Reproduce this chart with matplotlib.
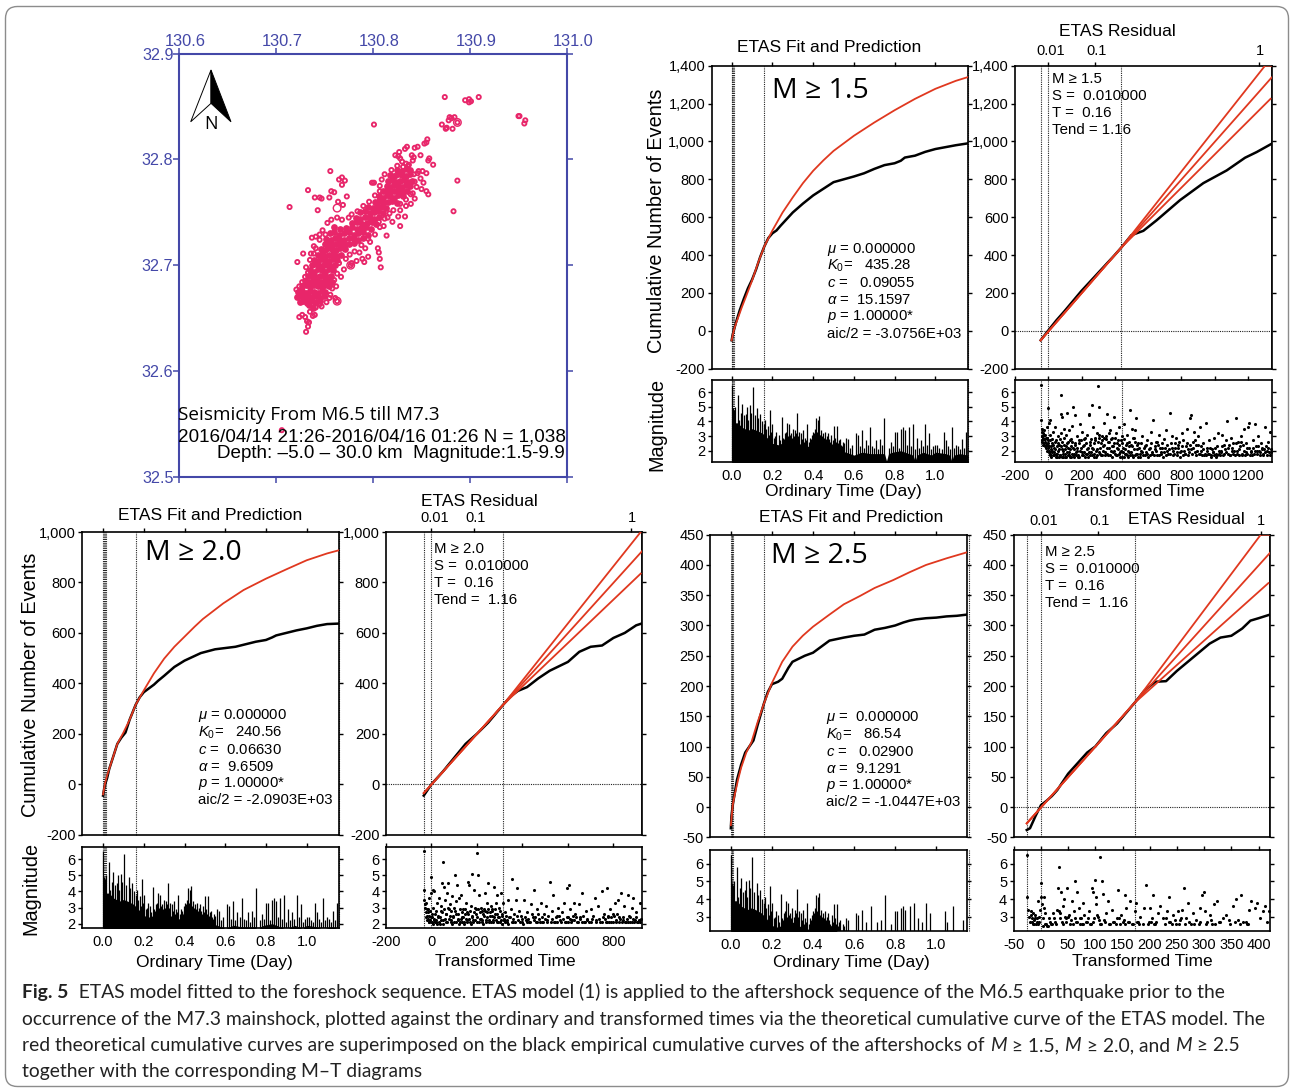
import matplotlib
matplotlib.use('Agg')
import matplotlib.pyplot as plt
from matplotlib.patches import FancyBboxPatch
from matplotlib.transforms import IdentityTransform

W, H = 1290, 1089
BLUE = '#4448a8'
PINK = '#e8266a'
RED = '#e0381f'

plt.rcParams['font.family'] = ['Liberation Sans', 'DejaVu Sans']
plt.rcParams['mathtext.fontset'] = 'custom'
plt.rcParams['mathtext.rm'] = 'Liberation Sans'
plt.rcParams['mathtext.it'] = 'Liberation Sans:italic'
plt.rcParams['mathtext.bf'] = 'Liberation Sans:bold'

# map: single rings around the band
map_pts = [(130.874,32.859),(130.895,32.856),(130.899,32.857),(130.901,32.855),(130.899,32.854),(130.909,32.859),
 (130.950,32.841),(130.951,32.841),(130.957,32.837),(130.956,32.834),(130.801,32.833),(130.879,32.840),(130.884,32.840),
 (130.881,32.839),(130.887,32.835),(130.882,32.829),(130.871,32.833),(130.875,32.829),(130.878,32.837),(130.876,32.830),
 (130.856,32.819),(130.853,32.815),(130.855,32.816),(130.846,32.812),(130.843,32.811),(130.835,32.812),(130.833,32.810),
 (130.827,32.807),(130.823,32.804),(130.849,32.804),(130.840,32.804),(130.842,32.802),(130.858,32.801),(130.857,32.799),
 (130.862,32.795),(130.828,32.801),(130.826,32.803),(130.830,32.798),(130.834,32.796),(130.837,32.795),(130.841,32.799),
 (130.887,32.780),(130.883,32.751),(130.828,32.737),(130.833,32.746),(130.808,32.698),(130.763,32.666),(130.777,32.700),
 (130.714,32.755),(130.733,32.771),(130.756,32.789),(130.765,32.781),(130.768,32.783),(130.771,32.780),(130.768,32.776),
 (130.757,32.770),(130.760,32.769),(130.740,32.764),(130.745,32.764),(130.747,32.763),(130.755,32.764),(130.773,32.765),
 (130.764,32.760),(130.769,32.757),(130.743,32.752),(130.799,32.778),(130.801,32.778),(130.722,32.703),(130.728,32.711),
 (130.737,32.726),(130.741,32.727),(130.739,32.718),(130.745,32.724),(130.731,32.637),(130.733,32.642),(130.732,32.647),
 (130.730,32.651),(130.734,32.646),(130.724,32.651),(130.727,32.653),(130.735,32.656),(130.740,32.653),(130.738,32.652),
 (130.706,32.544),(130.807,32.706),(130.805,32.716),(130.797,32.722),(130.806,32.712),(130.795,32.708),(130.789,32.706),
 (130.791,32.703),(130.814,32.728),(130.820,32.741),(130.817,32.749),(130.826,32.746),(130.812,32.744),(130.806,32.741),
 (130.841,32.768),(130.845,32.774),(130.850,32.772),(130.855,32.770),(130.857,32.767),(130.852,32.778),(130.849,32.782),
 (130.847,32.789),(130.851,32.789),(130.846,32.787),(130.855,32.787),(130.842,32.786),(130.839,32.758),(130.834,32.756),
 (130.828,32.752),(130.843,32.763),(130.823,32.784),(130.819,32.790),(130.812,32.786),(130.809,32.781),(130.807,32.775),
 (130.761,32.669),(130.755,32.669),(130.752,32.665),(130.741,32.660),(130.745,32.663),(130.724,32.680),(130.721,32.677),
 (130.724,32.675),(130.727,32.684),(130.730,32.689),(130.735,32.705),(130.739,32.711),(130.762,32.680),(130.767,32.689),
 (130.770,32.696),(130.765,32.702),(130.778,32.702),(130.783,32.704),(130.786,32.712),(130.792,32.716),(130.776,32.710),
 (130.733,32.665),(130.737,32.663),(130.747,32.661),(130.756,32.672),(130.758,32.678),(130.760,32.686),(130.763,32.692),
 (130.772,32.706),(130.781,32.713),(130.788,32.719),(130.795,32.725),(130.802,32.729),(130.807,32.736),(130.811,32.737),
 (130.815,32.745),(130.821,32.752),(130.828,32.758),(130.834,32.762),(130.839,32.767),(130.843,32.779),(130.748,32.733),
 (130.751,32.729),(130.745,32.729),(130.753,32.740),(130.757,32.743),(130.763,32.745),(130.768,32.743),(130.775,32.745),
 (130.778,32.748),(130.784,32.751),(130.790,32.756),(130.796,32.760),(130.802,32.766),(130.807,32.770),(130.733,32.693),
 (130.731,32.698),(130.736,32.711),(130.741,32.716),(130.825,32.794),(130.831,32.793),(130.836,32.794)]
# map: the solid core of the band, where rings overlap completely
map_core = [(130.725,32.665),(130.728,32.666),(130.732,32.664),(130.736,32.666),(130.741,32.665),(130.745,32.666),
 (130.722,32.670),(130.726,32.671),(130.730,32.669),(130.733,32.671),(130.737,32.670),(130.741,32.671),(130.745,32.669),(130.749,32.671),
 (130.723,32.675),(130.727,32.676),(130.731,32.674),(130.735,32.676),(130.739,32.675),(130.743,32.674),(130.747,32.676),(130.751,32.675),
 (130.727,32.680),(130.731,32.681),(130.735,32.679),(130.739,32.681),(130.743,32.680),(130.747,32.679),(130.751,32.681),(130.755,32.680),
 (130.730,32.685),(130.734,32.684),(130.738,32.686),(130.742,32.685),(130.746,32.684),(130.750,32.686),(130.754,32.685),(130.758,32.684),
 (130.733,32.690),(130.737,32.691),(130.741,32.689),(130.745,32.690),(130.749,32.691),(130.753,32.689),(130.757,32.690),
 (130.735,32.695),(130.739,32.694),(130.743,32.696),(130.747,32.695),(130.751,32.694),(130.755,32.696),(130.759,32.695),
 (130.737,32.700),(130.741,32.701),(130.745,32.699),(130.749,32.700),(130.753,32.701),(130.757,32.699),(130.761,32.700),
 (130.739,32.705),(130.743,32.704),(130.747,32.706),(130.751,32.705),(130.755,32.704),(130.759,32.706),(130.763,32.705),
 (130.743,32.710),(130.747,32.711),(130.751,32.709),(130.755,32.710),(130.759,32.711),(130.763,32.709),(130.767,32.710),
 (130.746,32.715),(130.750,32.714),(130.754,32.716),(130.758,32.715),(130.762,32.714),(130.766,32.716),(130.771,32.715),
 (130.750,32.720),(130.754,32.721),(130.758,32.719),(130.762,32.720),(130.766,32.721),(130.770,32.719),(130.775,32.720),(130.780,32.721),
 (130.752,32.725),(130.757,32.724),(130.761,32.726),(130.765,32.725),(130.770,32.724),(130.775,32.726),(130.780,32.725),(130.785,32.724),(130.790,32.726),
 (130.756,32.730),(130.760,32.731),(130.765,32.729),(130.770,32.730),(130.775,32.731),(130.780,32.729),(130.785,32.730),(130.790,32.731),(130.795,32.729),
 (130.760,32.736),(130.766,32.734),(130.772,32.735),(130.778,32.736),(130.783,32.734),(130.788,32.735),(130.793,32.736),(130.798,32.734),
 (130.778,32.740),(130.784,32.741),(130.789,32.739),(130.794,32.740),(130.799,32.741),(130.803,32.739),
 (130.782,32.745),(130.787,32.744),(130.792,32.746),(130.797,32.745),(130.801,32.744),(130.806,32.746),
 (130.787,32.750),(130.792,32.751),(130.797,32.749),(130.801,32.750),(130.805,32.751),(130.810,32.749),
 (130.795,32.755),(130.800,32.754),(130.804,32.756),(130.808,32.755),(130.813,32.754),
 (130.802,32.760),(130.806,32.761),(130.810,32.759),(130.815,32.760),(130.820,32.761),(130.825,32.759),
 (130.806,32.765),(130.810,32.764),(130.814,32.766),(130.818,32.765),(130.822,32.764),(130.826,32.766),(130.831,32.765),
 (130.810,32.770),(130.814,32.771),(130.818,32.769),(130.822,32.770),(130.826,32.771),(130.830,32.769),(130.835,32.770),
 (130.814,32.775),(130.818,32.774),(130.822,32.776),(130.826,32.775),(130.830,32.774),(130.834,32.776),(130.838,32.775),
 (130.815,32.780),(130.820,32.781),(130.824,32.779),(130.828,32.780),(130.832,32.781),(130.836,32.779),(130.840,32.780),
 (130.818,32.785),(130.822,32.784),(130.826,32.786),(130.830,32.785),(130.834,32.784),(130.838,32.786),
 (130.825,32.790),(130.830,32.789),(130.835,32.791),(130.838,32.790),(130.734,32.662),(130.738,32.660)]
map_big = [(130.763,32.754),(130.777,32.700),(130.763,32.666),(130.887,32.835)]
lon_ticks = [130.6, 130.7, 130.8, 130.9, 131.0]
lat_ticks = [32.5, 32.6, 32.7, 32.8, 32.9]

# ordinary time curves
t15_black = [0,.005,.01,.02,.04,.06,.08,.1,.12,.14,.16,.18,.2,.22,.24,.27,.3,.35,.4,.45,.5,.55,.6,.65,.7,.75,.8,.83,.85,.9,.95,1.0,1.05,1.1,1.16]
n15_black = [-50,-20,0,40,110,170,225,270,325,390,445,490,515,530,555,590,625,672,715,750,785,800,815,832,855,875,885,898,915,925,945,960,970,980,990]
t15_red = [0,.01,.02,.03,.05,.07,.1,.13,.16,.2,.25,.3,.35,.4,.45,.5,.6,.7,.8,.9,1.0,1.1,1.16]
n15_red = [-50,0,35,65,125,180,265,360,445,530,625,705,780,845,900,950,1030,1100,1165,1225,1278,1320,1340]

t20_black = [0,.005,.01,.02,.03,.05,.07,.09,.11,.13,.16,.18,.2,.25,.27,.3,.35,.4,.48,.55,.6,.65,.7,.75,.8,.83,.85,.9,.95,1.0,1.05,1.1,1.16]
n20_black = [-45,-20,0,25,60,110,160,185,205,255,315,345,365,395,410,430,465,490,520,535,540,545,555,565,572,582,590,600,610,618,628,635,637]
t20_red = [0,.01,.02,.03,.05,.07,.1,.13,.16,.2,.25,.3,.35,.4,.45,.49,.59,.69,.8,.9,1.0,1.1,1.16]
n20_red = [-40,5,35,60,110,160,205,255,315,372,440,498,545,585,625,655,717,770,815,852,888,915,928]

t25_black = [0,.003,.01,.02,.03,.05,.07,.09,.11,.13,.16,.18,.2,.23,.25,.28,.3,.33,.36,.4,.44,.48,.55,.6,.65,.7,.75,.8,.84,.87,.9,.95,1.0,1.05,1.1,1.15]
n25_black = [-35,-15,5,25,45,70,90,100,110,135,170,190,203,207,212,230,240,245,250,255,265,275,280,283,285,293,296,300,305,308,310,312,313,315,316,318]
t25_red = [0,.01,.02,.035,.05,.075,.1,.13,.16,.2,.25,.3,.35,.4,.48,.55,.63,.7,.79,.87,.95,1.05,1.15]
n25_red = [-30,5,22,45,65,90,107,140,170,205,240,265,283,298,318,335,349,362,375,388,400,411,421]

# transformed time curves
tau15_black = [-44,0,50,100,200,300,400,440,500,572,652,792,932,1072,1182,1252,1342]
res15_black = [-50,0,55,105,210,305,400,440,505,528,584,690,780,847,914,944,988]
tau15_hi, res15_hi = [-44,440,1302,1342], [-50,440,1400,1400]
tau15_mid, res15_mid = [-44,440,1342], [-50,440,1338]
tau15_lo, res15_lo = [-44,440,1335], [-50,440,1225]

tau20_black = [-34,0,50,100,150,200,250,315,350,380,420,470,520,600,650,700,750,800,850,900,927]
res20_black = [-45,0,50,105,160,200,245,315,350,370,385,420,450,485,525,545,550,580,600,630,638]
tau20_hi, res20_hi = [-34,315,920], [-35,315,1000]
tau20_mid, res20_mid = [-34,315,927], [-35,315,925]
tau20_lo, res20_lo = [-34,315,920], [-35,315,835]

tau25_black = [-26,-20,-10,0,10,20,30,50,70,85,100,120,140,172,190,210,230,250,270,290,310,330,350,370,385,400,421]
res25_black = [-38,-35,-15,3,10,18,28,55,75,90,100,122,138,172,192,207,208,225,240,255,270,280,283,295,308,312,318]
tau25_hi, res25_hi = [-26,172,404,421], [-27,172,450,450]
tau25_mid, res25_mid = [-26,172,421], [-27,172,420]
tau25_lo, res25_lo = [-26,172,418], [-27,172,370]

# M-T diagram, ordinary time: solid lower envelope and single spikes
env_t = [0,.01,.03,.05,.08,.1,.12,.15,.18,.2,.23,.26,.3,.33,.36,.38,.4,.43,.46,.5,.53,.56,.6,.64,.68,.72,.75,.76,.77,.79,.83,.87,.89,.9,.91,.94,.98,1.0,1.05,1.07,1.08,1.09,1.12,1.16]
env_m = [4.0,3.9,3.9,3.6,3.4,3.5,3.4,3.2,2.8,2.5,2.4,2.6,2.7,2.5,2.3,2.3,2.8,3.1,2.7,2.4,2.0,1.9,1.7,1.9,1.8,1.8,1.8,1.3,1.8,1.9,2.0,1.8,1.7,1.3,1.7,1.9,1.7,1.9,1.8,1.7,1.3,1.7,1.8,1.7]
spike_t = [0,.005,.01,.015,.03,.035,.045,.05,.06,.07,.075,.08,.09,.095,.105,.115,.125,.13,.14,.15,.16,.165,.18,.19,.2,.22,.245,.26,.27,.28,.3,.31,.32,.33,.35,.37,.39,.41,.415,.425,.43,.44,.46,.475,.49,.5,.515,.53,.55,.56,.57,.61,.62,.64,.66,.68,.71,.73,.75,.78,.8,.81,.83,.84,.85,.87,.89,.91,.93,.95,.97,1.0,1.01,1.04,1.05,1.08,1.1,1.13,1.15,
 .54,.58,.59,.63,.65,.67,.69,.7,.72,.74,.77,.79,.82,.86,.88,.9,.92,.94,.96,.98,.99,1.02,1.03,1.06,1.07,1.09,1.11,1.12,1.14,
 .17,.185,.195,.21,.215,.23,.235,.25,.255,.265,.275,.285,.29,.295,.305,.315,.325,.34,.345,.355,.36,.365,.38,.385,.395,.4,.405,.42,.435,.445,.45,.455,.465,.47,.48,.485,.495,.505,.51,.52,.525,.535,.545]
spike_m = [6.5,4.9,4.8,5.0,5.8,4.1,4.6,5.2,4.4,4.5,5.0,4.1,5.1,4.6,6.35,4.4,4.9,4.2,4.5,4.0,3.8,4.1,3.7,4.75,3.8,3.3,4.3,3.2,3.9,3.8,3.5,3.4,4.55,3.3,3.4,3.8,2.8,3.5,4.2,4.1,4.35,3.4,3.3,3.2,3.1,3.7,3.7,2.8,2.5,2.9,2.8,3.2,3.1,3.4,2.7,3.6,2.7,2.8,4.2,2.6,3.3,3.3,3.5,3.6,3.4,3.6,3.8,2.9,2.7,3.8,3.2,2.4,2.4,3.3,2.7,3.6,2.4,2.8,3.3,
 2.3,2.2,2.4,2.3,2.2,2.4,2.3,2.2,2.1,2.4,2.2,2.3,2.2,2.4,2.3,2.1,2.2,2.3,2.4,2.1,2.3,2.2,2.1,2.3,2.1,2.2,2.3,2.1,2.2,
 3.5,3.1,3.3,2.9,3.0,3.1,2.7,2.9,2.8,3.3,3.0,3.1,3.2,2.9,3.0,3.2,3.0,3.2,2.8,2.6,2.9,2.7,2.6,2.9,3.1,3.3,3.2,3.3,3.1,3.0,3.2,2.9,2.8,3.0,2.8,2.6,2.7,2.9,2.6,2.5,2.7,2.4,2.6]

# M-T diagram, transformed time
mt15 = [(-44,6.5),(-42,4.1),(-40,3.5),(-38,3.3),(-36,3.0),(-35,2.7),(-33,3.2),(-30,2.9),(-28,2.5),(-26,3.4),(-24,2.8),(-22,2.3),(-20,3.1),(-18,2.6),(-15,2.2),(-13,2.9),(-10,2.4),(-8,3.6),(-6,2.0),(-3,2.7),(0,4.9),(2,1.9),(4,3.9),(6,2.3),(8,1.7),(10,3.1),(12,4.1),(14,2.1),
 (18,1.6),(22,2.5),(25,1.9),(28,3.3),(32,1.7),(36,2.2),(40,3.6),(44,1.8),(48,2.7),(52,1.6),(56,2.0),(60,3.0),(64,2.4),(68,1.7),(75,5.8),(75,4.5),(78,3.2),(82,2.1),(85,4.3),(88,1.8),(92,2.9),(96,3.5),(100,1.6),(104,2.3),(108,3.1),(110,4.6),(114,1.9),(118,2.6),(122,3.4),(126,1.7),(130,2.1),(134,2.8),(138,1.6),(142,3.7),(146,2.2),(150,5.0),(154,1.8),(158,2.5),(160,4.4),(165,1.7),(170,3.0),(175,2.0),(180,1.6),(185,2.7),(190,3.8),(195,2.2),(200,1.9),(205,3.3),(210,1.7),(215,2.4),(220,2.9),(225,1.8),(230,2.1),(235,3.1),(240,1.6),(245,4.5),(247,4.4),(250,2.6),(255,1.9),(260,2.2),(265,5.1),(270,3.6),(275,1.8),(280,2.7),(285,1.6),(290,3.2),(295,2.1),(300,6.4),(303,2.9),(305,5.0),(310,1.8),(315,2.5),(320,3.0),(325,1.7),(330,2.3),(335,3.9),(340,1.9),(345,2.8),(350,2.2),(355,4.5),(360,1.7),(365,2.6),(370,3.4),(375,2.0),(380,1.6),(385,2.9),(390,2.3),(395,4.3),(400,1.8),(405,3.2),(410,2.5),(415,1.7),(420,2.1),(425,3.6),(430,1.9),(435,2.7),(440,3.0),(445,1.6),(450,2.2),(455,3.8),(460,1.8),(465,2.4),(470,3.1),(475,1.7),(480,2.0),(485,2.6),(490,4.8),(495,1.9),(500,3.5),(505,2.3),(510,1.6),(515,2.9),(520,3.4),(525,4.2),(530,2.1),(535,1.8),(540,2.5),(548,1.6),(555,2.0),(562,3.0),(570,1.7),(578,2.3),(585,1.9),(592,2.7),(600,1.6),(608,2.2),(615,3.3),(622,1.8),(630,4.1),(638,2.1),(645,2.6),(652,1.7),(660,2.4),(668,3.1),(675,1.9),(682,2.2),(690,1.6),(698,2.8),(705,3.4),(712,2.0),(720,1.8),(730,4.6),(738,2.5),(745,3.0),(752,1.7),(760,2.2),(768,2.9),(775,1.9),(782,2.4),(790,1.6),(798,2.0),(805,3.2),(812,2.7),(820,1.8),(828,2.3),(835,3.5),(842,1.7),(850,4.2),(855,2.1),(860,4.4),(868,2.6),(875,3.3),(882,1.9),(890,2.4),(898,3.0),(905,1.8),(912,3.6),(920,2.0),(928,2.5),(935,1.7),(945,3.9),(952,2.2),(960,1.8),(968,2.7),(975,1.6),(982,2.1),(990,1.9),(998,2.9),(1005,1.6),(1012,2.3),(1020,3.2),(1028,1.8),(1035,2.0),(1042,3.1),(1050,1.7),(1058,2.4),(1065,1.9),(1075,4.0),(1082,2.2),(1090,1.7),(1098,2.9),(1105,2.0),(1112,2.5),(1125,4.2),(1132,1.8),(1140,2.6),(1148,2.1),(1155,3.0),(1162,1.7),(1170,2.4),(1178,3.5),(1185,1.9),(1192,2.2),(1198,3.6),(1205,3.9),(1212,1.7),(1220,2.0),(1228,2.7),(1235,1.8),(1240,3.8),(1248,2.3),(1255,2.0),(1262,3.0),(1270,1.7),(1278,2.5),(1285,2.1),(1292,1.8),(1300,3.6),(1308,2.3),(1315,2.0),(1322,2.6),(1330,3.3),(1335,1.9),(1340,2.1)]
mt15_low = [(-37,2.6),(-31,2.4),(-27,3.1),(-21,2.8),(-16,2.5),(-12,2.3),(-7,2.9),(-4,2.2),(1,2.5),(5,2.0),(9,2.7),(13,1.8),(16,2.3),(20,2.0),(24,2.8),(27,1.7),(30,2.4),(34,1.9),(38,2.1),(42,2.6),(46,1.6),(50,2.3),(54,1.8),(58,2.5),(62,1.6),(66,2.1),(70,2.8),(73,1.7),(77,2.3),(80,1.6),(84,2.6),(87,2.0),(90,1.6),(94,2.4),(98,1.8),(102,2.1),(106,1.6),(112,2.5),(116,1.7),(120,2.2),(124,1.9),(128,2.7),(132,1.6),(136,2.3),(140,1.8),(144,2.6),(148,1.7),(152,2.1),(156,1.6),(162,2.4),(167,1.9),(172,2.2),(177,1.7),(182,2.5),(187,1.6),(192,2.0),(197,2.7),(202,1.7),(207,2.3),(212,1.9),(217,2.8),(222,1.6),(227,2.5),(232,1.8),(237,2.2),(242,1.9),(248,1.7),(252,2.4),(257,2.8),(262,1.7),(267,2.1),(272,1.6),(277,2.5),(282,2.9),(287,2.0),(292,1.7),(297,2.6),(302,1.9),(307,3.1),(312,2.2),(317,1.7),(322,2.7),(327,2.0),(332,2.9),(337,2.4),(342,1.7),(347,3.0),(352,1.8),(357,2.6),(362,2.2),(367,3.2),(372,1.7),(377,2.8),(382,2.3),(387,1.9),(392,2.5),(397,2.0),(402,2.9),(407,1.7),(412,2.2),(417,2.7),(422,1.8),(427,2.4),(432,1.6),(437,2.0),(442,2.5),(447,1.9),(452,2.8),(457,1.6),(462,2.1),(467,1.8),(472,2.5),(477,1.6),(482,2.3),(487,1.9),(492,1.7),(498,2.4),(503,1.7),(508,2.9),(513,2.1),(518,1.7),(523,2.6),(528,1.8),(533,2.4),(538,1.6),(545,2.2),(552,1.8),(558,2.5),(565,1.9),(572,2.2),(580,1.7),(588,2.4),(595,1.8),(603,2.1),(610,1.7),(618,2.5),(625,1.9),(633,1.7),(640,2.3),(648,2.0),(655,2.6),(663,1.7),(670,2.2),(678,1.8),(685,2.5),(693,1.9),(700,2.2),(708,1.7),(715,2.4),(723,2.1),(733,1.8),(741,2.2),(748,2.0),(756,1.8),(763,2.5),(771,1.7),(778,2.2),(786,2.6),(794,1.9),(801,2.3),(809,1.7),(816,2.0),(824,1.8),(831,2.5),(839,2.1),(846,1.9),(853,2.4),(865,1.8),(872,2.2),(879,2.7),(887,1.7),(894,2.0),(902,2.4),(909,1.8),(917,2.3),(924,1.7),(932,2.1),(940,1.8),(948,1.7),(956,2.0),(964,1.8),(971,2.2),(979,1.7),(987,1.9),(995,1.7),(1002,2.2),(1009,1.8),(1016,1.7),(1024,2.0),(1032,1.7),(1039,1.9),(1046,2.3),(1054,1.8),(1062,2.1),(1070,2.7),(1079,1.8),(1086,2.4),(1094,1.7),(1102,2.2),(1109,1.8),(1116,2.0),(1122,1.7),(1128,2.5),(1136,2.0),(1144,1.7),(1151,2.3),(1159,2.6),(1166,1.8),(1174,2.0),(1182,1.7),(1189,2.5),(1196,1.8),(1208,2.2),(1216,1.9),(1224,1.7),(1232,2.2),(1244,2.0),(1252,1.8),(1259,2.3),(1266,2.0),(1274,1.9),(1282,2.2),(1289,1.7),(1296,2.1),(1304,1.9),(1312,1.7),(1319,2.2),(1326,1.9),(1333,1.7)]
mt20 = [(-34,6.5),(-33,4.1),(-31,3.5),(-29,3.2),(-27,3.0),(-25,2.7),(-23,3.3),(-21,2.5),(-19,2.9),(-17,2.3),(-15,2.7),(-13,2.1),(-11,2.5),(-9,3.6),(-7,2.2),(-5,2.8),(-2,3.9),(0,4.9),(2,2.1),(4,2.4),(6,4.1),(8,3.0),(10,2.2),(13,4.0),(16,2.6),(20,2.1),(24,3.3),(28,2.4),(32,3.6),(36,2.0),(40,2.8),(44,3.1),(47,4.5),(50,5.8),(52,2.2),(55,4.3),(58,3.5),(62,2.6),(65,2.1),(68,3.9),(72,4.5),(75,2.9),(78,2.3),(82,3.2),(86,2.1),(90,3.7),(94,2.5),(98,2.1),(102,5.0),(104,2.8),(108,3.4),(111,4.4),(115,2.2),(118,2.6),(122,3.6),(126,2.1),(130,3.8),(134,2.4),(138,2.9),(142,2.1),(146,2.6),(150,3.3),(154,2.2),(158,2.7),(162,4.6),(165,4.4),(168,2.1),(172,3.1),(176,2.4),(180,5.1),(183,2.2),(186,4.1),(190,3.0),(194,2.6),(198,6.4),(200,2.1),(203,5.0),(206,2.9),(210,3.8),(214,2.3),(218,3.0),(222,2.1),(226,2.6),(230,2.9),(234,3.9),(238,2.2),(242,2.7),(246,3.3),(250,4.5),(254,2.1),(258,2.5),(262,3.1),(266,2.9),(270,2.2),(274,4.3),(278,2.6),(282,3.3),(286,2.1),(290,3.8),(294,2.4),(298,3.0),(302,2.1),(306,3.9),(310,2.5),(315,3.3),(320,2.2),(325,2.7),(330,2.1),(335,3.5),(340,2.4),(348,2.9),(355,4.8),(360,2.1),(365,2.6),(370,3.5),(375,4.2),(380,2.2),(385,2.8),(392,2.5),(400,2.1),(408,3.5),(415,2.2),(422,2.7),(430,2.1),(438,3.2),(445,2.4),(452,4.1),(458,2.1),(465,2.9),(472,2.3),(480,3.3),(488,2.1),(495,2.6),(502,3.1),(510,2.2),(520,4.6),(528,2.8),(535,3.8),(542,2.1),(550,2.5),(558,3.0),(566,2.2),(575,2.7),(584,3.3),(590,2.1),(596,4.2),(600,2.4),(604,4.4),(610,2.9),(618,2.2),(625,3.3),(632,2.6),(640,2.1),(648,3.2),(655,2.4),(662,3.9),(670,2.1),(678,2.8),(686,2.3),(694,2.1),(702,2.9),(710,2.5),(718,3.6),(725,2.2),(732,3.1),(740,2.1),(750,4.0),(758,2.6),(766,2.1),(772,4.2),(778,2.4),(784,2.9),(790,2.1),(798,2.6),(806,3.3),(812,2.1),(820,3.5),(826,2.4),(833,3.9),(840,2.2),(848,3.1),(855,2.1),(862,3.8),(868,2.5),(875,2.1),(882,3.0),(888,3.6),(894,2.2),(900,2.7),(908,2.1),(915,3.3),(922,2.3)]
mt20_low = [(-26,2.4),(-20,2.2),(-14,2.9),(-10,2.1),(-4,2.4),(1,2.6),(5,2.0),(9,2.3),(14,2.1),(18,2.8),(22,2.2),(26,2.0),(30,2.5),(34,2.1),(38,2.4),(42,2.2),(46,2.7),(50,2.0),(54,2.9),(60,2.3),(66,2.6),(70,2.1),(74,3.0),(80,2.5),(84,2.2),(88,2.8),(92,2.0),(96,2.4),(100,3.0),(106,2.1),(110,2.6),(116,2.3),(120,2.0),(124,2.9),(128,2.3),(132,2.1),(136,2.7),(140,2.4),(144,2.0),(148,2.9),(152,2.3),(156,2.1),(160,2.6),(166,2.3),(170,2.8),(174,2.0),(178,2.5),(184,2.1),(188,2.7),(192,2.2),(196,2.9),(202,2.4),(208,2.1),(212,2.7),(216,2.3),(220,2.8),(224,2.2),(228,2.0),(232,2.5),(236,2.8),(240,2.1),(244,2.4),(248,2.9),(252,2.2),(256,2.7),(260,2.1),(264,2.5),(268,2.8),(272,2.1),(276,2.4),(280,2.9),(284,2.2),(288,2.6),(292,2.1),(296,2.4),(300,2.8),(304,2.2),(308,2.0),(312,2.6),(318,2.3),(322,2.1),(328,2.5),(332,2.2),(338,2.0),(344,2.4),(352,2.1),(358,2.3),(368,2.1),(378,2.5),(388,2.1),(396,2.3),(404,2.0),(412,2.4),(420,2.1),(426,2.3),(434,2.1),(442,2.6),(450,2.2),(456,2.4),(462,2.1),(470,2.6),(476,2.1),(484,2.4),(492,2.1),(500,2.3),(506,2.1),(514,2.5),(524,2.1),(532,2.3),(540,2.1),(546,2.4),(554,2.1),(562,2.5),(570,2.1),(578,2.3),(586,2.1),(594,2.4),(602,2.1),(608,2.3),(614,2.1),(622,2.5),(628,2.2),(636,2.4),(644,2.1),(652,2.3),(660,2.1),(668,2.5),(676,2.1),(684,2.2),(700,2.1),(708,2.3),(722,2.1),(736,2.3),(748,2.1),(754,2.4),(762,2.3),(770,2.1),(776,2.5),(782,2.1),(788,2.4),(796,2.1),(802,2.5),(810,2.2),(816,2.6),(824,2.1),(830,2.3),(836,2.1),(844,2.4),(852,2.1),(858,2.3),(866,2.1),(872,2.4),(880,2.1),(886,2.3),(892,2.1),(898,2.4),(904,2.1),(912,2.2),(918,2.1)]
mt25 = [(-26,6.5),(-25,4.1),(-23,3.4),(-22,3.0),(-20,2.7),(-18,3.3),(-17,2.9),(-15,2.6),(-14,3.2),(-12,2.8),(-10,3.1),(-9,2.6),(-7,2.9),(-5,3.9),(-4,2.7),(-2,3.4),(0,4.1),(1,4.9),(2,3.7),(3,2.9),(5,3.5),(6,4.1),(8,2.6),(12,2.5),(15,2.9),(18,2.6),(22,3.2),(26,2.7),(30,3.4),(32,4.6),(34,5.8),(35,3.2),(37,4.4),(38,2.7),(41,3.6),(43,4.0),(46,2.9),(48,4.6),(50,3.0),(53,2.6),(57,3.9),(60,3.3),(62,5.0),(64,2.7),(66,4.4),(70,3.5),(72,2.9),(75,2.6),(78,3.8),(80,3.1),(84,2.7),(88,3.3),(92,2.6),(94,4.6),(95,4.4),(98,2.9),(100,5.1),(101,4.1),(102,3.7),(105,3.0),(108,2.6),(109,6.4),(112,5.0),(114,4.3),(116,2.8),(120,3.2),(123,3.9),(127,2.6),(130,3.4),(135,2.7),(140,2.9),(142,4.5),(146,2.6),(148,3.1),(152,2.8),(154,4.2),(157,3.5),(160,2.7),(164,3.9),(168,2.6),(172,3.3),(175,3.8),(178,2.7),(183,3.0),(187,2.6),(190,3.5),(193,4.8),(198,2.7),(200,3.5),(204,2.9),(206,4.2),(210,2.6),(215,3.2),(218,3.6),(225,2.9),(228,2.6),(232,3.3),(235,4.1),(238,2.7),(243,3.1),(248,2.6),(252,3.3),(256,2.8),(260,3.4),(263,4.6),(266,2.9),(270,3.8),(275,2.6),(280,3.2),(285,2.8),(290,2.6),(293,3.5),(296,4.2),(299,4.4),(302,3.3),(306,2.7),(310,3.1),(315,2.6),(318,3.7),(323,3.9),(328,2.7),(334,2.9),(340,3.1),(347,2.6),(353,3.6),(358,4.0),(362,2.8),(367,4.2),(372,2.7),(378,2.6),(382,3.4),(387,3.9),(393,3.5),(398,3.8),(403,2.9),(408,3.3),(412,3.6),(415,2.7),(419,3.3)]
mt25_low = [(-19,3.1),(-16,2.7),(-13,2.6),(-11,2.9),(-8,2.7),(-6,2.6),(-3,3.0),(4,2.5),(7,3.2),(10,2.6),(13,2.5),(17,2.7),(20,2.6),(24,2.9),(28,2.6),(33,3.3),(36,2.9),(40,2.6),(44,3.0),(47,2.7),(52,3.1),(55,2.8),(59,2.6),(63,2.9),(67,2.7),(71,2.6),(74,2.9),(77,2.6),(82,2.7),(86,2.9),(90,2.6),(96,2.7),(103,3.1),(106,2.8),(111,2.6),(118,2.7),(125,2.6),(132,2.7),(138,2.6),(144,2.9),(150,2.7),(155,2.6),(162,2.7),(170,2.6),(176,2.7),(180,2.6),(196,2.6),(202,2.7),(208,2.6),(212,2.7),(230,2.9),(236,2.7),(240,2.6),(246,2.8),(254,2.6),(258,2.9),(265,2.6),(272,2.7),(282,2.6),(292,2.7),(304,2.6),(312,2.8),(320,2.6),(330,2.7),(345,2.8),(356,2.7),(365,2.6),(376,2.7),(380,2.6)]

# labels per panel
params15 = [r'$\mathit{μ}$ = 0.000000', r'$\mathit{K_0}$=   435.28', r'$\mathit{c}$ =   0.09055', r'$\mathit{α}$ =  15.1597', r'$\mathit{p}$ = 1.00000*', 'aic/2 = -3.0756E+03']
params20 = [r'$\mathit{μ}$ = 0.000000', r'$\mathit{K_0}$=   240.56', r'$\mathit{c}$ =  0.06630', r'$\mathit{α}$ =  9.6509', r'$\mathit{p}$ = 1.00000*', 'aic/2 = -2.0903E+03']
params25 = [r'$\mathit{μ}$ =  0.000000', r'$\mathit{K_0}$=   86.54', r'$\mathit{c}$ =   0.02900', r'$\mathit{α}$ =  9.1291', r'$\mathit{p}$ = 1.00000*', 'aic/2 = -1.0447E+03']
info15 = ['M ≥ 1.5', 'S =  0.010000', 'T =  0.16', 'Tend = 1.16']
info20 = ['M ≥ 2.0', 'S =  0.010000', 'T =  0.16', 'Tend =  1.16']
info25 = ['M ≥ 2.5', 'S =  0.010000', 'T =  0.16', 'Tend =  1.16']

ticks_big = [-200, 0, 200, 400, 600, 800, 1000, 1200, 1400]
ticks_mid = [-200, 0, 200, 400, 600, 800, 1000]
ticks_small = [-50, 0, 50, 100, 150, 200, 250, 300, 350, 400, 450]
t_ticks = [0, .2, .4, .6, .8, 1.0]
t_marks = [0, .004, .008, .012, .16, 1.16]

fig = plt.figure(figsize=(W / 100, H / 100), dpi=100)


def px_axes(l, t, r, b):
    return fig.add_axes([l / W, 1 - b / H, (r - l) / W, (b - t) / H])


def T(x, y, s, **kw):
    kw.setdefault('ha', 'center')
    kw.setdefault('va', 'center')
    kw.setdefault('fontsize', 10.5)
    return fig.text(x / W, 1 - y / H, s, **kw)


def style(ax, lw=1.2):
    for sp in ax.spines.values():
        sp.set_linewidth(lw)
    ax.tick_params(direction='out', length=3.2, width=1.0, pad=1.5, labelsize=10.5)


def fmt(v):
    return f'{v:,}'


def fit_panel(box, ylim, yticks, xlim, tb, nb, tr, nr, mlim, mticks, mmin, px, pys, params):
    l, t, r, b, t2, b2 = box
    ax = px_axes(l, t, r, b)
    style(ax)
    ax.plot(tb, nb, color='black', lw=1.8, zorder=3)
    ax.plot(tr, nr, color=RED, lw=1.3, zorder=4)
    for v in t_marks:
        ax.axvline(v, color='#222222', lw=0.8, ls=(0, (1, 1)), clip_on=False, zorder=1)
    ax.set_xlim(xlim)
    ax.set_ylim(ylim)
    ax.set_yticks(yticks, [fmt(v) for v in yticks])
    ax.set_xticks(t_ticks)
    ax.tick_params(axis='x', top=True, bottom=False, labelbottom=False)
    ax.tick_params(axis='y', right=True)
    for i, s in enumerate(params):
        T(px, pys + i * 16.9, s, ha='left', fontsize=10.7)

    ax2 = px_axes(l, t2, r, b2)
    style(ax2)
    ax2.fill_between(env_t, 0, env_m, color='black', lw=0)
    st = [a for a, m in zip(spike_t, spike_m) if m >= mmin]
    sm = [m for m in spike_m if m >= mmin]
    ax2.vlines(st, 0, sm, color='black', lw=0.9)
    for v in t_marks:
        ax2.axvline(v, color='#222222', lw=0.8, ls=(0, (1, 1)), clip_on=False, zorder=1)
    ax2.set_xlim(xlim)
    ax2.set_ylim(mlim)
    ax2.set_yticks(mticks)
    ax2.set_xticks(t_ticks, [f'{v:.1f}' for v in t_ticks])
    ax2.tick_params(axis='x', top=True, bottom=False, pad=1.5)
    ax2.tick_params(axis='y', right=True)


def res_panel(box, ylim, yticks, xlim, xticks, top_pos, tau_marks, curves, black, mlim, mticks, mt, ix, iy, info):
    l, t, r, b, t2, b2 = box
    ax = px_axes(l, t, r, b)
    style(ax)
    ax.plot(black[0], black[1], color='black', lw=1.8, zorder=3)
    for cx, cy in curves:
        ax.plot(cx, cy, color=RED, lw=1.3, zorder=4)
    for v in tau_marks:
        ax.axvline(v, color='#222222', lw=0.8, ls=(0, (1, 1)), zorder=1)
    ax.axhline(0, color='#222222', lw=0.8, ls=(0, (1, 1)), zorder=1)
    ax.axvline(xlim[1], color='#222222', lw=1.2, zorder=2)
    ax.set_xlim(xlim)
    ax.set_ylim(ylim)
    ax.set_yticks(yticks, [fmt(v) for v in yticks])
    ax.tick_params(axis='y', right=True)
    ax.set_xticks(top_pos)
    ax.tick_params(axis='x', top=True, bottom=False, labelbottom=False)
    for i, s in enumerate(info):
        T(ix, iy + i * 16.9, s, ha='left', fontsize=10.8)

    ax2 = px_axes(l, t2, r, b2)
    style(ax2)
    ax2.scatter([p[0] for p in mt], [p[1] for p in mt], s=5, color='black', lw=0, zorder=3, clip_on=False)
    for v in tau_marks:
        ax2.axvline(v, color='#222222', lw=0.8, ls=(0, (1, 1)), zorder=1)
    ax2.set_xlim(xlim)
    ax2.set_ylim(mlim)
    ax2.set_yticks(mticks)
    ax2.set_xticks(xticks, [str(v) for v in xticks])
    ax2.tick_params(axis='x', top=True, bottom=False, pad=1.5)
    ax2.tick_params(axis='y', right=True)


# map
m = px_axes(179, 53.7, 567, 476.7)
m.scatter([p[0] for p in map_pts], [p[1] for p in map_pts], s=9, facecolors='none', edgecolors=PINK, lw=1.35, zorder=2)
m.scatter([p[0] for p in map_core], [p[1] for p in map_core], s=24, color=PINK, lw=0, zorder=2)
m.scatter([p[0] for p in map_big], [p[1] for p in map_big], s=30, facecolors='none', edgecolors=PINK, lw=1.0, zorder=2)
m.set_xlim(130.6, 131.0)
m.set_ylim(32.5, 32.9)
for sp in m.spines.values():
    sp.set_linewidth(1.5)
    sp.set_color(BLUE)
m.set_xticks(lon_ticks, [])
m.set_yticks(lat_ticks, [f'{v:.1f}' for v in lat_ticks])
m.tick_params(direction='out', length=4, width=1.1, color=BLUE, top=True, right=True, pad=0, labelsize=11.6, labelcolor=BLUE)
for v in lon_ticks:
    T(179 + (v - 130.6) / 0.4 * 388 + 6, 41, f'{v:.1f}', color=BLUE, fontsize=11.8)
m.fill([.0825, .0301, .0825], [.9615, .839, .8827], transform=m.transAxes, facecolor='white', edgecolor='black', lw=0.7, zorder=3)
m.fill([.0825, .134, .0825], [.9615, .839, .8827], transform=m.transAxes, facecolor='black', edgecolor='black', lw=0.7, zorder=3)
T(211, 124, 'N', family='Open Sans', fontsize=13, color='black')
T(178, 415, 'Seismicity From M6.5 till M7.3', ha='left', family='Open Sans', fontsize=13.6)
T(178, 437, '2016/04/14 21:26-2016/04/16 01:26 N = 1,038', ha='left', fontsize=13.6)
T(565, 453.5, 'Depth: –5.0 – 30.0 km  Magnitude:1.5-9.9', ha='right', fontsize=13.6)

# M >= 1.5
fit_panel((711.7, 65.7, 968, 368.7, 380, 462), (-200, 1400), ticks_big, (-.098, 1.16), t15_black, n15_black, t15_red, n15_red,
          (1.23, 6.82), [2, 3, 4, 5, 6], 0, 827, 249, params15)
res_panel((1015, 65.7, 1271.7, 368.7, 380, 462), (-200, 1400), ticks_big, (-198, 1342), [-200, 0, 200, 400, 600, 800, 1000, 1200],
          [0, 280, 1264], [-44, 0, 440], [(tau15_hi, res15_hi), (tau15_mid, res15_mid), (tau15_lo, res15_lo)],
          (tau15_black, res15_black), (1.23, 6.82), [2, 3, 4, 5, 6], mt15 + mt15_low, 1051.7, 79, info15)
T(829, 48, 'ETAS Fit and Prediction', fontsize=12.5)
T(1117, 32, 'ETAS Residual', fontsize=12.5)
T(843, 491, 'Ordinary Time (Day)', fontsize=12.5)
T(1134, 491, 'Transformed Time', fontsize=12.5)
T(657, 221, 'Cumulative Number of Events', rotation=90, fontsize=14.3)
T(657, 424, 'Magnitude', rotation=90, fontsize=14.3)
T(1051, 51, '0.01')
T(1097, 51, '0.1')
T(1260, 51, '1')
T(771.7, 91, 'M ≥ 1.5', ha='left', family='Open Sans', fontsize=20.5)

# M >= 2.0
fit_panel((82.3, 532, 339.3, 834.7, 846.7, 928), (-200, 1000), ticks_mid, (-.102, 1.16), t20_black, n20_black, t20_red, n20_red,
          (1.73, 6.78), [2, 3, 4, 5, 6], 0, 198, 716, params20)
res_panel((386, 532, 642.3, 834.7, 846.7, 928), (-200, 1000), ticks_mid, (-200, 927), [-200, 0, 200, 400, 600, 800],
          [0, 189, 879], [-34, 0, 315], [(tau20_hi, res20_hi), (tau20_mid, res20_mid), (tau20_lo, res20_lo)],
          (tau20_black, res20_black), (1.73, 6.78), [2, 3, 4, 5, 6], mt20 + mt20_low, 434, 549, info20)
T(210, 515, 'ETAS Fit and Prediction', fontsize=12.5)
T(479, 501, 'ETAS Residual', fontsize=12.5)
T(214, 962, 'Ordinary Time (Day)', fontsize=12.5)
T(505, 962, 'Transformed Time', fontsize=12.5)
T(31, 685, 'Cumulative Number of Events', rotation=90, fontsize=14.3)
T(31, 888, 'Magnitude', rotation=90, fontsize=14.3)
T(435, 518, '0.01')
T(476, 518, '0.1')
T(632, 518, '1')
T(145, 553, 'M ≥ 2.0', ha='left', family='Open Sans', fontsize=20.5)

# M >= 2.5
fit_panel((710.3, 534.7, 966.7, 837.3, 849.7, 931), (-50, 450), ticks_small, (-.1, 1.148), t25_black, n25_black, t25_red, n25_red,
          (2.19, 6.79), [3, 4, 5, 6], 2.5, 826, 718, params25)
res_panel((1013.7, 534.7, 1270, 837.3, 849.7, 931), (-50, 450), ticks_small, (-50, 421), [-50, 0, 50, 100, 150, 200, 250, 300, 350, 400],
          [0, 105, 405], [-26, 0, 172], [(tau25_hi, res25_hi), (tau25_mid, res25_mid), (tau25_lo, res25_lo)],
          (tau25_black, res25_black), (2.19, 6.79), [3, 4, 5, 6], mt25 + mt25_low, 1045, 552, info25)
T(851, 517, 'ETAS Fit and Prediction', fontsize=12.5)
T(1186, 520, 'ETAS Residual', fontsize=12.5)
T(851, 962, 'Ordinary Time (Day)', fontsize=12.5)
T(1142, 962, 'Transformed Time', fontsize=12.5)
T(1044, 521, '0.01')
T(1100, 521, '0.1')
T(1261, 521, '1')
T(771, 556, 'M ≥ 2.5', ha='left', family='Open Sans', fontsize=20.5)

# caption, placed run by run so bold and italic can mix
cap_lines = [
    [('Fig. 5', 'bold', 'normal'), ('  ETAS model fitted to the foreshock sequence. ETAS model (1) is applied to the aftershock sequence of the M6.5 earthquake prior to the', 'normal', 'normal')],
    [('occurrence of the M7.3 mainshock, plotted against the ordinary and transformed times via the theoretical cumulative curve of the ETAS model. The', 'normal', 'normal')],
    [('red theoretical cumulative curves are superimposed on the black empirical cumulative curves of the aftershocks of ', 'normal', 'normal'), ('M', 'normal', 'italic'), (' ≥ 1.5, ', 'normal', 'normal'), ('M', 'normal', 'italic'), (' ≥ 2.0, and ', 'normal', 'normal'), ('M', 'normal', 'italic'), (' ≥ 2.5', 'normal', 'normal')],
    [('together with the corresponding M–T diagrams', 'normal', 'normal')],
]
cap_y = [998, 1025, 1051, 1077]
rend = fig.canvas.get_renderer()
for runs, y in zip(cap_lines, cap_y):
    x = 22
    for s, weight, slant in runs:
        s2 = s.replace(' ', '\u00a0')
        txt = T(x, y, s2, ha='left', va='baseline', family='Lato', fontsize=13.85, weight=weight, style=slant, color='#222222')
        x = txt.get_window_extent(rend).x1 + 0.5

fig.add_artist(FancyBboxPatch((5.5, 2.5), 1283, 1080, boxstyle='round,pad=0,rounding_size=12', transform=IdentityTransform(),
                              facecolor='none', edgecolor='#8c8c8c', lw=1.0, zorder=-1))

fig.savefig('out.png', dpi=100)
